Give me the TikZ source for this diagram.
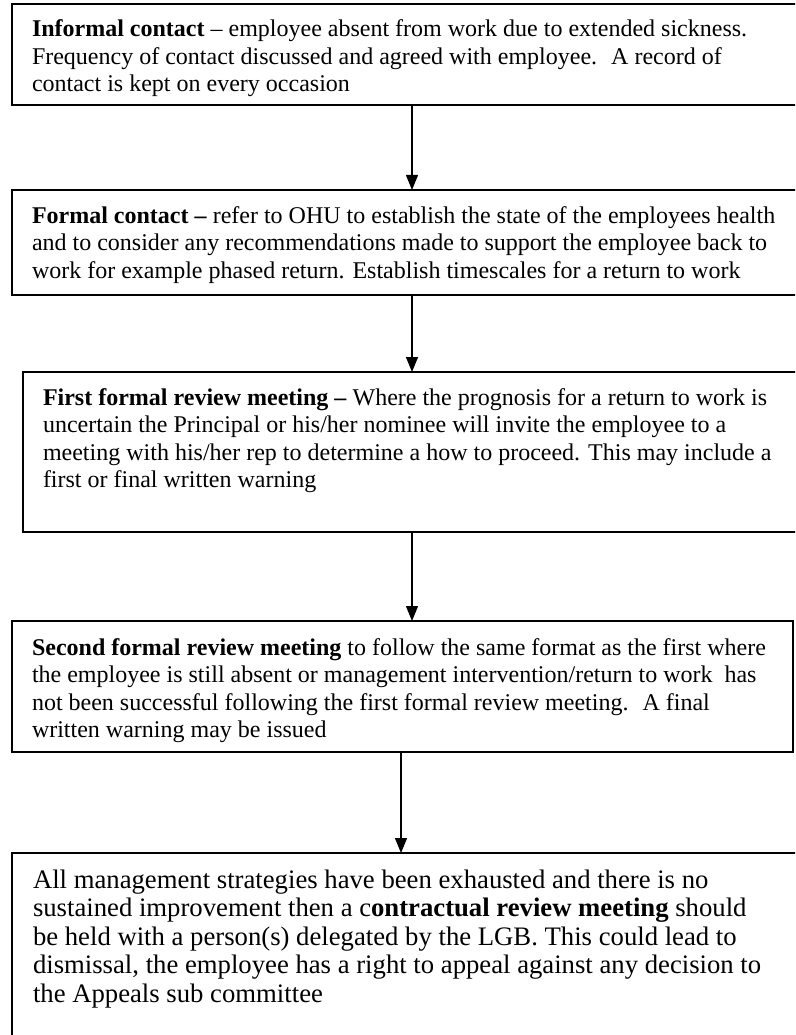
\documentclass[tikz,border=0pt]{standalone}
\usepackage{fontspec}
\setmainfont{Liberation Serif}
\usetikzlibrary{arrows.meta}
\tikzset{
  box/.style={draw=black, line width=1.8pt, rectangle, anchor=north west, inner sep=0pt, outer sep=0pt},
  txt/.style={anchor=north west, inner sep=0pt, outer sep=0pt, align=left, font={\fontsize{24}{27.5}\selectfont}},
  txtbig/.style={anchor=north west, inner sep=0pt, outer sep=0pt, align=left, font={\fontsize{26.7}{28.6}\selectfont}},
  arr/.style={draw=black, line width=1.3pt, -{Triangle[width=12pt,length=15pt]}}
}
\begin{document}
\begin{tikzpicture}[x=1pt,y=-1pt]
\clip (0,0) rectangle (795,1035);
\fill[white] (0,0) rectangle (795,1035);
% boxes
\node[box, minimum width=800pt, minimum height=101pt] (b1) at (12,4) {};
\node[box, minimum width=800pt, minimum height=105pt] (b2) at (12,190) {};
\node[box, minimum width=790pt, minimum height=160pt] (b3) at (23,372) {};
\node[box, minimum width=781pt, minimum height=131pt] (b4) at (12,621) {};
\node[box, minimum width=800pt, minimum height=200pt] (b5) at (12,853) {};
% texts
\node[txt] (t1) at (32,20) {\textbf{Informal contact} -- employee absent from work due to extended sickness.\\
Frequency of contact discussed and agreed with employee.~ A record of\\
contact is kept on every occasion};
\node[txt] (t2) at (32,206.5) {\textbf{Formal contact --} refer to OHU to establish the state of the employees health\\
and to consider any recommendations made to support the employee back to\\
work for example phased return. Establish timescales for a return to work};
\node[txt] (t3) at (43,388.5) {\textbf{First formal review meeting --} Where the prognosis for a return to work is\\
uncertain the Principal or his/her nominee will invite the employee to a\\
meeting with his/her rep to determine a how to proceed. This may include a\\
first or final written warning};
\node[txt] (t4) at (32,638.5) {\textbf{Second formal review meeting} to follow the same format as the first where\\
the employee is still absent or management intervention/return to work~ has\\
not been successful following the first formal review meeting.~ A final\\
written warning may be issued};
\node[txtbig] (t5) at (33,869.5) {All management strategies have been exhausted and there is no\\
sustained improvement then a c\textbf{ontractual review meeting} should\\
be held with a person(s) delegated by the LGB. This could lead to\\
dismissal, the employee has a right to appeal against any decision to\\
the Appeals sub committee};
% arrows
\coordinate (ax) at (412,0);
\coordinate (ay) at (401,0);
\draw[arr] (b1.south -| ax) -- (b2.north -| ax);
\draw[arr] (b2.south -| ax) -- (b3.north -| ax);
\draw[arr] (b3.south -| ax) -- (b4.north -| ax);
\draw[arr] (b4.south -| ay) -- (b5.north -| ay);
\end{tikzpicture}
\end{document}
